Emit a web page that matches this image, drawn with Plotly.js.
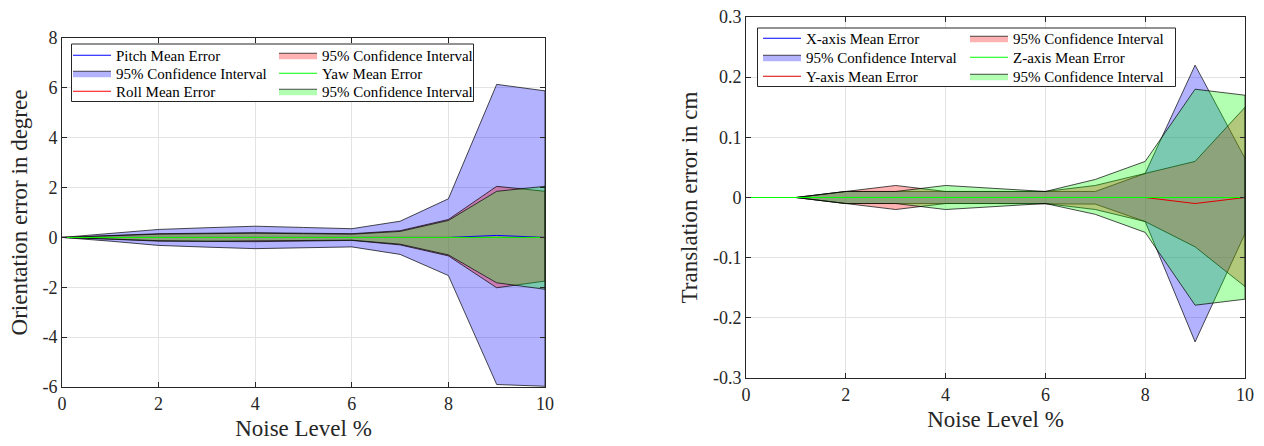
<!DOCTYPE html>
<html><head><meta charset="utf-8">
<script src="https://cdn.plot.ly/plotly-3.0.1.min.js"></script>
<style>html,body{margin:0;padding:0;background:#fff;} #chart{width:1264px;height:446px;}</style>
</head><body><div id="chart"></div>
<script>
// ---- data ----
const noiseLevels = [0,1,2,3,4,5,6,7,8,9,10];

// Left: orientation error (degree)
const pitchMean  = [0,0,0,0,0,0,0,0,0,0.08,0];
const pitchUpper = [0,0.15,0.32,0.39,0.45,0.40,0.35,0.65,1.55,6.14,5.88];
const pitchLower = [0,-0.15,-0.32,-0.39,-0.45,-0.42,-0.38,-0.68,-1.53,-5.90,-5.97];
const rollMean   = [0,0,0,0,0,0,0,0,0,0.02,0];
const rollUpper  = [0,0.07,0.15,0.17,0.19,0.17,0.15,0.27,0.72,2.05,1.85];
const rollLower  = [0,-0.07,-0.15,-0.16,-0.17,-0.15,-0.12,-0.30,-0.74,-2.02,-1.75];
const yawMean    = [0,0,0,0,0,0,0,0,0,0,0];
const yawUpper   = [0,0.06,0.13,0.15,0.17,0.15,0.13,0.24,0.68,1.85,2.05];
const yawLower   = [0,-0.06,-0.13,-0.15,-0.15,-0.13,-0.11,-0.27,-0.70,-1.82,-2.08];

// Right: translation error (cm)
const xAxisMean  = [0,0,0,0,0,0,0,0,0,0,0];
const xAxisUpper = [0,0,0.01,0.01,0.01,0.01,0.01,0.01,0.04,0.22,0.065];
const xAxisLower = [0,0,-0.01,-0.01,-0.01,-0.01,-0.01,-0.011,-0.04,-0.24,-0.06];
const yAxisMean  = [0,0,0,0,0,0,0,0,0,-0.01,0];
const yAxisUpper = [0,0,0.01,0.02,0.01,0.01,0.01,0.02,0.04,0.06,0.15];
const yAxisLower = [0,0,-0.01,-0.02,-0.01,-0.01,-0.01,-0.02,-0.04,-0.082,-0.148];
const zAxisMean  = [0,0,0,0,0,0,0,0,0,0,0];
const zAxisUpper = [0,0,0.01,0.01,0.02,0.015,0.01,0.03,0.06,0.18,0.17];
const zAxisLower = [0,0,-0.01,-0.01,-0.02,-0.015,-0.01,-0.028,-0.058,-0.179,-0.169];

// ticks
const xTicks = [0,2,4,6,8,10];
const xTickLabels = ['0','2','4','6','8','10'];
const leftYTicks = [-6,-4,-2,0,2,4,6,8];
const leftYTickLabels = ['-6','-4','-2','0','2','4','6','8'];
const rightYTicks = [-0.3,-0.2,-0.1,0,0.1,0.2,0.3];
const rightYTickLabels = ['-0.3','-0.2','-0.1','0','0.1','0.2','0.3'];

const ciName = '95% Confidence Interval';
const FONT = '"Liberation Serif", "Times New Roman", Times, serif';

const BLUE = 'rgba(0,0,255,0.3)', RED = 'rgba(255,0,0,0.3)', GREEN = 'rgba(0,255,0,0.3)';

function band(upper, lower, fill, xa, ya, leg, rank) {
  return {
    x: noiseLevels.concat(noiseLevels.slice().reverse()),
    y: upper.concat(lower.slice().reverse()),
    type: 'scatter', mode: 'lines', fill: 'toself', fillcolor: fill,
    line: {color: '#000', width: 0.7}, name: ciName, xaxis: xa, yaxis: ya,
    legend: leg, legendrank: rank, hoverinfo: 'skip'
  };
}
function meanLine(y, name, color, xa, ya, leg, rank) {
  return {x: noiseLevels, y: y, type: 'scatter', mode: 'lines', name: name,
    line: {color: color, width: 1}, xaxis: xa, yaxis: ya, legend: leg, legendrank: rank};
}

// legend rows: legend/legend2/legend3 = left rows 1-3, legend4/5/6 = right rows 1-3
const traces = [
  band(pitchUpper, pitchLower, BLUE, 'x', 'y', 'legend2', 1),
  band(rollUpper, rollLower, RED, 'x', 'y', 'legend', 2),
  band(yawUpper, yawLower, GREEN, 'x', 'y', 'legend3', 2),
  meanLine(pitchMean, 'Pitch Mean Error', '#0000ff', 'x', 'y', 'legend', 1),
  meanLine(rollMean, 'Roll Mean Error', '#ff0000', 'x', 'y', 'legend3', 1),
  meanLine(yawMean, 'Yaw Mean Error', '#00ff00', 'x', 'y', 'legend2', 2),
  band(xAxisUpper, xAxisLower, BLUE, 'x2', 'y2', 'legend5', 1),
  band(yAxisUpper, yAxisLower, RED, 'x2', 'y2', 'legend4', 2),
  band(zAxisUpper, zAxisLower, GREEN, 'x2', 'y2', 'legend6', 2),
  meanLine(xAxisMean, 'X-axis Mean Error', '#0000ff', 'x2', 'y2', 'legend4', 1),
  meanLine(yAxisMean, 'Y-axis Mean Error', '#dd0000', 'x2', 'y2', 'legend6', 1),
  meanLine(zAxisMean, 'Z-axis Mean Error', '#00ff00', 'x2', 'y2', 'legend5', 2)
];

const W = 1264, H = 446;
const px = v => v / W, py = v => 1 - v / H;

const axisCommon = {
  showline: true, mirror: 'ticks', linecolor: '#262626', linewidth: 1,
  ticks: 'inside', ticklen: 5, tickcolor: '#262626', tickwidth: 1,
  showgrid: true, gridcolor: '#e3e3e3', gridwidth: 1, zeroline: false,
  tickfont: {family: FONT, size: 18, color: '#262626'}, tickmode: 'array'
};
const titleFont = {family: FONT, size: 23, color: '#262626'};

function legendRow(xp, yTop, ew) {
  return {x: px(xp), y: py(yTop), xanchor: 'left', yanchor: 'top', orientation: 'h',
    entrywidthmode: 'pixels', entrywidth: ew,
    bgcolor: 'rgba(0,0,0,0)', borderwidth: 0, itemwidth: 38, tracegroupgap: 0,
    font: {family: FONT, size: 15, color: '#000'}};
}

const layout = {
  width: W, height: H, margin: {l: 0, r: 0, t: 0, b: 0},
  paper_bgcolor: '#fff', plot_bgcolor: '#fff', showlegend: true,
  font: {family: FONT},
  xaxis: Object.assign({}, axisCommon, {domain: [px(62), px(545)], range: [0, 10], anchor: 'y',
    tickvals: xTicks, ticktext: xTickLabels,
    title: {text: 'Noise Level %', font: titleFont, standoff: 7}}),
  yaxis: Object.assign({}, axisCommon, {domain: [py(387), py(38)], range: [-6, 8], anchor: 'x',
    tickvals: leftYTicks, ticktext: leftYTickLabels,
    title: {text: 'Orientation error in degree', font: titleFont, standoff: 8}}),
  xaxis2: Object.assign({}, axisCommon, {domain: [px(746), px(1245)], range: [0, 10], anchor: 'y2',
    tickvals: xTicks, ticktext: xTickLabels,
    title: {text: 'Noise Level %', font: titleFont, standoff: 7}}),
  yaxis2: Object.assign({}, axisCommon, {domain: [py(378), py(17)], range: [-0.3, 0.3], anchor: 'x2',
    tickvals: rightYTicks, ticktext: rightYTickLabels,
    title: {text: 'Translation error in cm', font: titleFont, standoff: 8}}),
  legend:  legendRow(68, 39, 153),
  legend2: legendRow(68, 57, 153),
  legend3: legendRow(68, 75, 153),
  legend4: legendRow(758, 22, 154),
  legend5: legendRow(758, 41, 154),
  legend6: legendRow(758, 60, 154),
  shapes: [
    {type: 'rect', xref: 'paper', yref: 'paper', x0: px(71.5), x1: px(473.5), y0: py(101.5), y1: py(44),
      line: {color: '#262626', width: 1}, fillcolor: '#fff', layer: 'above'},
    {type: 'rect', xref: 'paper', yref: 'paper', x0: px(757.5), x1: px(1175.5), y0: py(86.5), y1: py(28),
      line: {color: '#262626', width: 1}, fillcolor: '#fff', layer: 'above'}
  ]
};

Plotly.newPlot('chart', traces, layout, {displayModeBar: false, staticPlot: true});
</script></body></html>
